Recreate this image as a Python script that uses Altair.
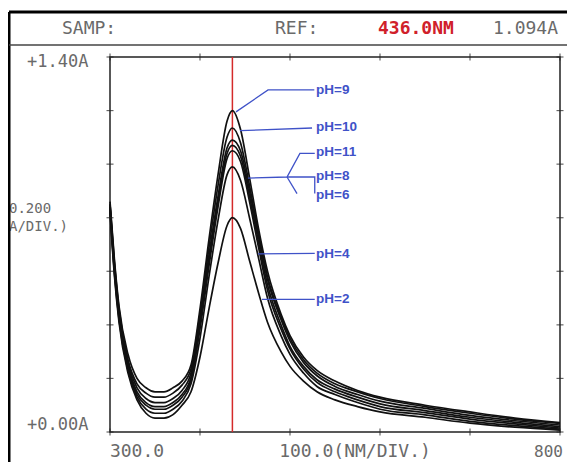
import altair as alt
import pandas as pd

# ---------------- data ----------------
wavelength = [300, 305, 310, 320, 330, 340, 350, 360, 370, 380, 390, 400, 410, 420, 430, 436,
              445, 455, 465, 475, 490, 500, 515, 530, 550, 575, 600, 650, 700, 750, 800]

ph9 = [0.86, 0.64, 0.47, 0.29, 0.20, 0.165, 0.15, 0.15, 0.165, 0.19, 0.25, 0.46, 0.72, 0.96, 1.16, 1.20,
       1.13, 0.95, 0.76, 0.60, 0.44, 0.36, 0.28, 0.23, 0.19, 0.155, 0.13, 0.10, 0.075, 0.052, 0.035]
ph10 = [0.85, 0.63, 0.46, 0.27, 0.18, 0.145, 0.13, 0.13, 0.145, 0.175, 0.235, 0.44, 0.69, 0.92, 1.10, 1.135,
        1.08, 0.92, 0.74, 0.58, 0.43, 0.35, 0.27, 0.22, 0.18, 0.15, 0.125, 0.095, 0.07, 0.048, 0.032]
ph11 = [0.85, 0.62, 0.45, 0.26, 0.165, 0.125, 0.11, 0.11, 0.125, 0.155, 0.22, 0.42, 0.66, 0.88, 1.06, 1.09,
        1.05, 0.90, 0.73, 0.57, 0.42, 0.34, 0.26, 0.21, 0.17, 0.14, 0.115, 0.088, 0.062, 0.042, 0.026]
ph8 = [0.84, 0.61, 0.44, 0.25, 0.15, 0.11, 0.095, 0.095, 0.11, 0.14, 0.205, 0.40, 0.64, 0.86, 1.04, 1.07,
       1.03, 0.88, 0.71, 0.55, 0.40, 0.32, 0.245, 0.195, 0.16, 0.13, 0.105, 0.08, 0.055, 0.036, 0.02]
ph6 = [0.84, 0.60, 0.43, 0.24, 0.14, 0.10, 0.085, 0.085, 0.10, 0.13, 0.195, 0.385, 0.62, 0.84, 1.02, 1.05,
       1.01, 0.86, 0.69, 0.53, 0.385, 0.31, 0.235, 0.185, 0.15, 0.12, 0.095, 0.072, 0.048, 0.03, 0.015]
ph4 = [0.83, 0.59, 0.42, 0.23, 0.13, 0.085, 0.07, 0.07, 0.085, 0.115, 0.18, 0.35, 0.58, 0.79, 0.96, 0.99,
       0.94, 0.80, 0.65, 0.50, 0.36, 0.29, 0.22, 0.17, 0.14, 0.11, 0.085, 0.064, 0.04, 0.024, 0.011]
ph2 = [0.82, 0.58, 0.41, 0.22, 0.12, 0.07, 0.052, 0.052, 0.065, 0.10, 0.15, 0.28, 0.46, 0.63, 0.77, 0.80,
       0.76, 0.64, 0.52, 0.41, 0.30, 0.245, 0.19, 0.15, 0.12, 0.095, 0.075, 0.055, 0.033, 0.018, 0.007]

series_names = ["pH=9", "pH=10", "pH=11", "pH=8", "pH=6", "pH=4", "pH=2"]
series_values = [ph9, ph10, ph11, ph8, ph6, ph4, ph2]

# label anchors (wavelength, absorbance)
label_text = ["pH=9", "pH=10", "pH=11", "pH=8", "pH=6", "pH=4", "pH=2"]
label_x = [529, 529, 529, 529, 529, 529, 529]
label_y = [1.277, 1.139, 1.045, 0.956, 0.885, 0.665, 0.497]

# leader lines: (segment id, wavelength, absorbance)
leader_seg = ["a", "a", "a", "b", "b", "c", "c", "c", "c", "d", "d", "d", "e", "e", "f", "f"]
leader_x = [440, 475.6, 527, 444.4, 524.5, 527.5, 511, 496.7, 453.3, 496.7, 527.5, 527.5, 507.8, 496.7, 464.4, 527.5]
leader_y = [1.195, 1.277, 1.277, 1.125, 1.135, 1.040, 1.040, 0.952, 0.948, 0.952, 0.952, 0.890, 0.890, 0.952, 0.665, 0.667]
leader2_x = [468.9, 527.5]
leader2_y = [0.495, 0.495]

x_ticks = [300, 400, 500, 600, 700, 800]
y_ticks = [0.0, 0.2, 0.4, 0.6, 0.8, 1.0, 1.2, 1.4]
ref_wavelength = 436

# ---------------- build tables ----------------
rows = []
for name, vals in zip(series_names, series_values):
    for w, v in zip(wavelength, vals):
        rows.append({"series": name, "wl": w, "abs": v})
curves = pd.DataFrame(rows)

labels = pd.DataFrame({"text": label_text, "wl": label_x, "abs": label_y})
lrows = [{"seg": s, "ord": i, "wl": x, "abs": y}
         for i, (s, x, y) in enumerate(zip(leader_seg, leader_x, leader_y))]
lrows += [{"seg": "g", "ord": 100 + i, "wl": x, "abs": y}
          for i, (x, y) in enumerate(zip(leader2_x, leader2_y))]
leaders = pd.DataFrame(lrows)

xt = pd.DataFrame([{"wl": w, "abs": a} for w in x_ticks for a in (0.0, 1.4)])
yt = pd.DataFrame([{"wl": w, "abs": a} for w in (300, 800) for a in y_ticks])

X = alt.X("wl:Q", scale=alt.Scale(domain=[300, 800], nice=False, zero=False), axis=None)
Y = alt.Y("abs:Q", scale=alt.Scale(domain=[0, 1.4], nice=False, zero=False), axis=None)

BLUE = "#3f52c8"
GRAY = "#6a6a6a"
MONO = "DejaVu Sans Mono"

lines = alt.Chart(curves).mark_line(color="#111", strokeWidth=1.7, interpolate="monotone").encode(
    x=X, y=Y, detail="series:N")

ref = alt.Chart(pd.DataFrame({"wl": [ref_wavelength]})).mark_rule(
    color="#d42a2a", strokeWidth=1.5).encode(x=X)

xtick = alt.Chart(xt).mark_tick(orient="vertical", size=7, thickness=1.2, color="#222").encode(x=X, y=Y)
ytick = alt.Chart(yt).mark_tick(orient="horizontal", size=7, thickness=1.2, color="#222").encode(x=X, y=Y)

lead = alt.Chart(leaders).mark_line(color=BLUE, strokeWidth=1.3).encode(
    x=X, y=Y, detail="seg:N", order="ord:Q")

labs = alt.Chart(labels).mark_text(align="left", baseline="middle", font="Liberation Sans",
                                   fontWeight="bold", fontSize=13.5, color=BLUE).encode(
    x=X, y=Y, text="text:N")


def txt(s, x, y, color=GRAY, size=18, weight="normal", align="left"):
    return alt.Chart(pd.DataFrame({"t": [s]})).mark_text(
        align=align, baseline="middle", font=MONO, fontSize=size, fontWeight=weight, color=color
    ).encode(x=alt.value(x), y=alt.value(y), text="t:N")


header = [
    txt("SAMP:", -48, -28),
    txt("REF:", 165, -28),
    txt("436.0NM", 268, -28, color="#d0202a", weight="bold"),
    txt("1.094A", 383, -28),
    txt("+1.40A", -83, 5, size=17),
    txt("0.200", -101, 152, size=14),
    txt("A/DIV.)", -101, 170, size=14),
    txt("+0.00A", -83, 368, size=17),
    txt("300.0", 27, 395, size=18, align="center"),
    txt("100.0(NM/DIV.)", 245, 395, size=18, align="center"),
    txt("800", 424, 395, size=16),
]

frame = [
    alt.Chart(pd.DataFrame({"a": [0]})).mark_rule(color="#000", strokeWidth=3).encode(
        x=alt.value(-101), y=alt.value(-45), y2=alt.value(420)),
    alt.Chart(pd.DataFrame({"a": [0]})).mark_rule(color="#000", strokeWidth=3).encode(
        x=alt.value(-101), x2=alt.value(470), y=alt.value(-45)),
    alt.Chart(pd.DataFrame({"a": [0]})).mark_rule(color="#444", strokeWidth=1.5).encode(
        x=alt.value(-101), x2=alt.value(470), y=alt.value(-12)),
]

chart = alt.layer(ref, lines, xtick, ytick, lead, labs, *header, *frame).properties(
    width=450, height=375,
    padding={"left": 102, "top": 49, "right": 7, "bottom": 30},
    autosize=alt.AutoSizeParams(type="none"),
).configure_view(stroke="#222", strokeWidth=1.5)

chart.save("out.html", embed_options={"renderer": "svg", "actions": False})
